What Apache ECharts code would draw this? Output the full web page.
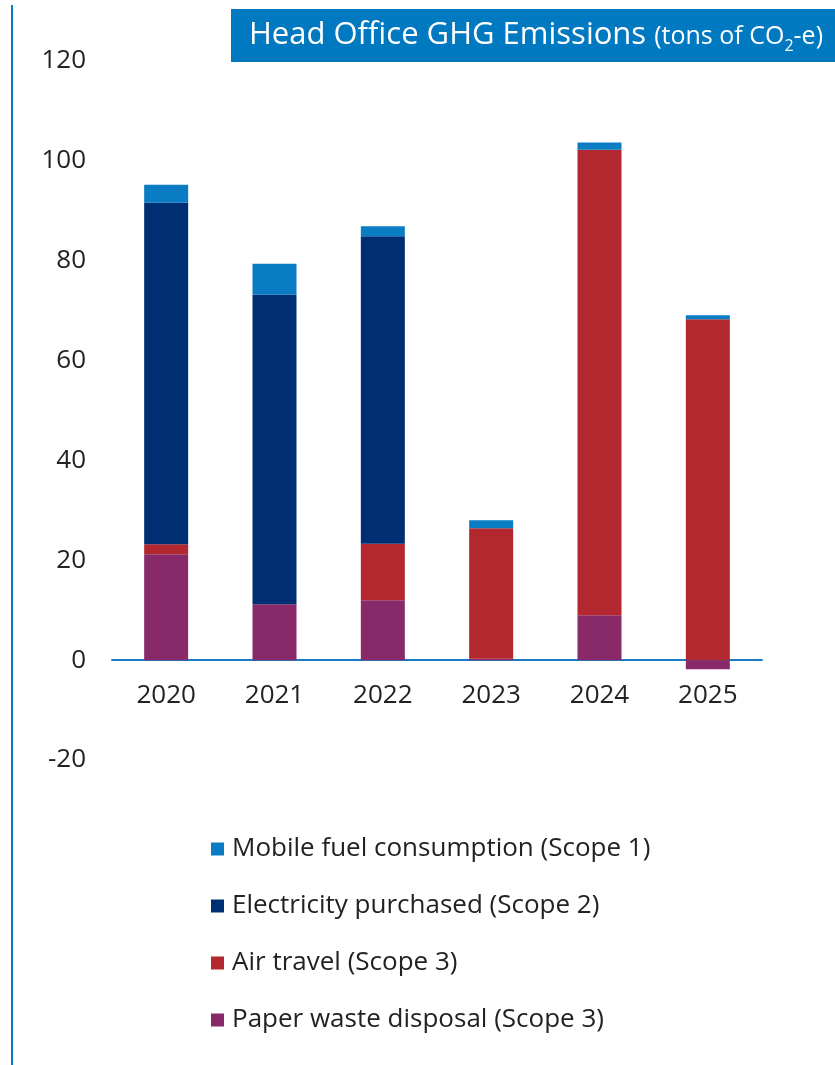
<!DOCTYPE html>
<html>
<head>
<meta charset="utf-8">
<script src="https://cdn.jsdelivr.net/npm/echarts@6/dist/echarts.min.js"></script>
<style>
html,body{margin:0;padding:0;background:#fff;}
#chart{width:835px;height:1065px;}
</style>
</head>
<body>
<div id="chart"></div>
<script>
const years = ['2020', '2021', '2022', '2023', '2024', '2025'];
const mobileFuel = [3.6, 6.2, 2.0, 1.6, 1.5, 0.8];
const electricity = [68.4, 62.0, 61.6, 0, 0, 0];
const airTravel = [2.0, 0, 11.3, 26.1, 93.2, 68.3];
const paperWaste = [21.2, 11.2, 12.0, 0.3, 9.0, -1.8];
const seriesNames = ['Mobile fuel consumption (Scope 1)', 'Electricity purchased (Scope 2)', 'Air travel (Scope 3)', 'Paper waste disposal (Scope 3)'];
const yTicks = { min: -20, max: 120, interval: 20 };

const FONT = '"Open Sans", "DejaVu Sans", sans-serif';
const chart = echarts.init(document.getElementById('chart'));
function mk(name, data, color) {
  return { name: name, type: 'bar', stack: 'total', data: data, barWidth: 44,
    itemStyle: { color: color }, emphasis: { disabled: true } };
}
chart.setOption({
  animation: false,
  textStyle: { fontFamily: FONT },
  grid: { left: 112, right: 73, top: 61, bottom: 1065 - 760, containLabel: false },
  xAxis: {
    type: 'category', data: years,
    axisLine: { onZero: true, lineStyle: { color: '#1a7cc4', width: 2 } },
    axisTick: { show: false },
    axisLabel: { color: '#222', fontSize: 26, fontFamily: FONT, margin: -77 },
    position: 'bottom'
  },
  yAxis: {
    type: 'value', min: yTicks.min, max: yTicks.max, interval: yTicks.interval,
    axisLine: { show: false }, axisTick: { show: false }, splitLine: { show: false },
    axisLabel: { color: '#222', fontSize: 26, fontFamily: FONT, margin: 26 }
  },
  legend: {
    orient: 'vertical', left: 206, top: 829,
    data: seriesNames,
    icon: 'rect', itemWidth: 13, itemHeight: 13, itemGap: 27,
    textStyle: { fontSize: 26, color: '#222', fontFamily: FONT, lineHeight: 30, padding: [0, 0, 0, 3] },
    selectedMode: false
  },
  series: [
    mk(seriesNames[3], paperWaste, '#88296a'),
    mk(seriesNames[2], airTravel, '#b3282e'),
    mk(seriesNames[1], electricity, '#002e73'),
    mk(seriesNames[0], mobileFuel, '#0a7cc4')
  ],
  graphic: [
    { type: 'line', shape: { x1: 12, y1: 5, x2: 12, y2: 1065 }, style: { stroke: '#0a7cc4', lineWidth: 2 } },
    { type: 'rect', shape: { x: 231, y: 9, width: 604, height: 53 }, style: { fill: '#0079c1' } },
    { type: 'text', left: 249, top: 20,
      style: {
        text: '{a|Head Office GHG Emissions }{b|(tons of CO}{s|2}{b|-e)}',
        fill: '#fff',
        rich: {
          a: { fontSize: 31, fontFamily: FONT, fill: '#fff', verticalAlign: 'bottom', lineHeight: 36 },
          b: { fontSize: 25, fontFamily: FONT, fill: '#fff', verticalAlign: 'bottom', lineHeight: 36, padding: [0, 0, 2, 0] },
          s: { fontSize: 16, fontFamily: FONT, fill: '#fff', verticalAlign: 'bottom', lineHeight: 36, padding: [0, 0, -3, 0] }
        }
      }
    }
  ]
});
</script>
</body>
</html>
